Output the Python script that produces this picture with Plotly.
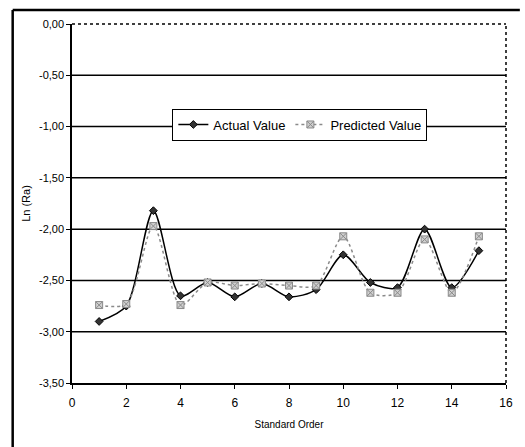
import plotly.graph_objects as go

order = list(range(1, 16))
actual = [-2.90, -2.75, -1.82, -2.65, -2.52, -2.66, -2.53, -2.66, -2.59,
          -2.25, -2.52, -2.57, -2.00, -2.57, -2.21]
predicted = [-2.74, -2.73, -1.97, -2.74, -2.52, -2.55, -2.53, -2.55, -2.55,
             -2.07, -2.62, -2.62, -2.10, -2.62, -2.07]
y_ticks = [0.0, -0.5, -1.0, -1.5, -2.0, -2.5, -3.0, -3.5]
y_tick_text = ["0,00", "-0,50", "-1,00", "-1,50", "-2,00", "-2,50", "-3,00", "-3,50"]
x_ticks = list(range(0, 17, 2))

FONT = "Liberation Sans Narrow, Arial Narrow, Liberation Sans, Arial"

fig = go.Figure()
fig.add_trace(go.Scatter(
    x=order, y=actual, name="Actual Value", mode="lines+markers",
    line=dict(color="black", width=1.5, shape="spline", smoothing=0.8),
    marker=dict(symbol="diamond", size=6, color="#333",
                line=dict(color="black", width=1)),
))
fig.add_trace(go.Scatter(
    x=order, y=predicted, name="Predicted Value", mode="lines+markers",
    line=dict(color="#8a8a8a", width=1.5, dash="dot", shape="spline", smoothing=0.8),
    marker=dict(symbol="square-x", size=7, color="#d0d0d0",
                line=dict(color="#8a8a8a", width=1)),
))

shapes = []
for v in y_ticks:
    if v == 0.0 or v == -3.5:
        continue
    shapes.append(dict(type="line", xref="paper", x0=0, x1=1, yref="y", y0=v, y1=v,
                       line=dict(color="black", width=1.5), layer="below"))
# dotted top and right plot border
shapes.append(dict(type="line", xref="paper", x0=0, x1=1, yref="paper", y0=1, y1=1,
                   line=dict(color="black", width=1.5, dash="dot")))
shapes.append(dict(type="line", xref="paper", x0=1, x1=1, yref="paper", y0=0, y1=1,
                   line=dict(color="black", width=1.5, dash="dot")))
# outer chart frame (top and left visible)
shapes.append(dict(type="line", xref="paper", x0=-60/439, x1=14/439 + 1, yref="paper",
                   y0=(383 - 10) / 359, y1=(383 - 10) / 359,
                   line=dict(color="black", width=2.5)))
shapes.append(dict(type="line", xref="paper", x0=-60/439, x1=-60/439, yref="paper",
                   y0=(383 - 10) / 359, y1=-64/359,
                   line=dict(color="black", width=2.5)))

fig.update_layout(
    width=525, height=447,
    margin=dict(l=72, r=14, t=24, b=64),
    paper_bgcolor="white", plot_bgcolor="white",
    font=dict(family=FONT, size=11, color="black"),
    shapes=shapes,
    showlegend=True,
    legend=dict(orientation="h", x=0.525, y=0.72, xanchor="center", yanchor="middle",
                bgcolor="white", bordercolor="black", borderwidth=1,
                font=dict(size=13, family=FONT), itemwidth=30,
                tracegroupgap=0),
    xaxis=dict(range=[0, 16], tickvals=x_ticks, showgrid=False, zeroline=False,
               showline=True, linecolor="black", linewidth=1.5,
               ticks="outside", ticklen=4, tickcolor="black",
               tickfont=dict(size=12), ticklabelstandoff=4,
               title=dict(text="Standard Order", font=dict(size=10), standoff=12)),
    yaxis=dict(range=[-3.5, 0], tickvals=y_ticks, ticktext=y_tick_text,
               showgrid=False, zeroline=False,
               showline=True, linecolor="black", linewidth=1.5,
               ticks="outside", ticklen=4, tickcolor="black",
               tickfont=dict(size=11),
               title=dict(text="Ln (Ra)", font=dict(size=11), standoff=6)),
)

fig.write_html("out.html")
